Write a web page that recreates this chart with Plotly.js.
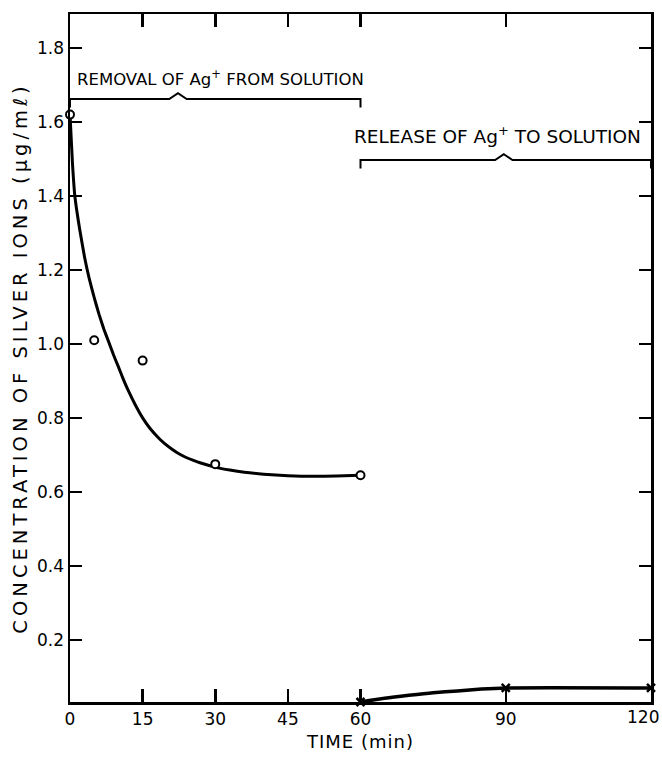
<!DOCTYPE html>
<html>
<head>
<meta charset="utf-8">
<script src="https://cdn.plot.ly/plotly-3.0.1.min.js"></script>
<style>
html,body{margin:0;padding:0;background:#fff;}
#chart{width:662px;height:757px;}
.ytitle{letter-spacing:4px;}
.xtitle{letter-spacing:1px;}
</style>
</head>
<body>
<div id="chart"></div>
<script>
// Measured points (circles: removal phase; crosses: release phase)
const removalTime = [0, 5, 15, 30, 60];
const removalConc = [1.62, 1.01, 0.955, 0.675, 0.645];
const releaseTime = [60, 90, 120];
const releaseConc = [0.032, 0.07, 0.07];

// Hand-drawn fitted curves
const removalCurveTime = [0, 0.5, 1, 2, 3, 4, 5, 6, 7, 8, 9, 10, 11, 12, 13.5, 15, 16.5, 18, 19.5, 21, 22.5, 24, 25.5, 27, 30, 33, 36, 40, 45, 50, 55, 60];
const removalCurveConc = [1.62, 1.49, 1.40, 1.31, 1.235, 1.175, 1.125, 1.08, 1.04, 1.005, 0.97, 0.938, 0.905, 0.875, 0.835, 0.80, 0.772, 0.750, 0.731, 0.716, 0.703, 0.693, 0.685, 0.678, 0.667, 0.659, 0.653, 0.648, 0.644, 0.642, 0.643, 0.645];
const releaseCurveTime = [60, 65, 70, 75, 80, 85, 90, 120];
const releaseCurveConc = [0.032, 0.042, 0.05, 0.057, 0.062, 0.067, 0.07, 0.07];

const xTicks = [0, 15, 30, 45, 60, 90, 120];
const xTickText = ["0", "15", "30", "45", "60", "90", "120"];
const yTicks = [0.2, 0.4, 0.6, 0.8, 1.0, 1.2, 1.4, 1.6, 1.8];
const yTickText = ["0.2", "0.4", "0.6", "0.8", "1.0", "1.2", "1.4", "1.6", "1.8"];

// Bracket labels
const bracketStart = [0, 60];
const bracketEnd = [60, 120];
const bracketPeak = [22.3, 89.6];
const bracketLevel = [1.662, 1.497];
const bracketLabels = ["REMOVAL OF Ag<sup>+</sup> FROM SOLUTION", "RELEASE OF Ag<sup>+</sup> TO SOLUTION"];
const labelX = [1.0, 58.3];
const labelY = [1.72, 1.565];
const labelSize = [16.5, 18.5];

const FONT = "DejaVu Sans, Liberation Sans, sans-serif";
const TICKSIZE = 17;

const traces = [
  {x: removalCurveTime, y: removalCurveConc, mode: 'lines', type: 'scatter',
   line: {color: '#000', width: 3, shape: 'spline', smoothing: 0.4}, hoverinfo: 'skip', cliponaxis: false},
  {x: releaseCurveTime, y: releaseCurveConc, mode: 'lines', type: 'scatter',
   line: {color: '#000', width: 3.5, shape: 'spline', smoothing: 0.6}, hoverinfo: 'skip', cliponaxis: false},
  {x: removalTime, y: removalConc, mode: 'markers', type: 'scatter',
   marker: {symbol: 'circle', size: 8, color: '#fff', line: {color: '#000', width: 2}}, cliponaxis: false},
  {x: releaseTime, y: releaseConc, mode: 'markers', type: 'scatter',
   marker: {symbol: 'x-thin-open', size: 8, color: '#000', line: {color: '#000', width: 2.5}}, cliponaxis: false}
];

const shapes = [];
const annotations = [];
for (let i = 0; i < bracketStart.length; i++) {
  const y = bracketLevel[i];
  const yEnd = y - 0.023;
  const yPeak = y + 0.016;
  const hw = 1.8;
  const p = bracketPeak[i];
  const path = `M ${bracketStart[i]} ${yEnd} L ${bracketStart[i]} ${y} L ${p - hw} ${y} L ${p} ${yPeak} L ${p + hw} ${y} L ${bracketEnd[i]} ${y} L ${bracketEnd[i]} ${yEnd}`;
  shapes.push({type: 'path', xref: 'x', yref: 'y', path: path, line: {color: '#000', width: 2}});
  annotations.push({x: labelX[i], y: labelY[i], xref: 'x', yref: 'y', text: bracketLabels[i],
    showarrow: false, xanchor: 'left', yanchor: 'middle', font: {family: FONT, size: labelSize[i], color: '#000'}});
}

// The last x tick label sits at the page edge: draw it right-aligned so it stays inside the page
const lastIdx = xTicks.length - 1;
const shownTickText = xTickText.map((t, i) => i === lastIdx ? '' : t);
annotations.push({x: xTicks[lastIdx], y: 0, xref: 'x', yref: 'paper', text: xTickText[lastIdx],
  showarrow: false, xanchor: 'right', yanchor: 'top', xshift: 10, yshift: -3,
  font: {family: FONT, size: TICKSIZE, color: '#000'}});

const layout = {
  width: 662, height: 757,
  margin: {l: 70, r: 11, t: 14, b: 55},
  paper_bgcolor: '#fff', plot_bgcolor: '#fff',
  showlegend: false,
  font: {family: FONT, color: '#000'},
  xaxis: {
    range: [0, 120], tickvals: xTicks, ticktext: shownTickText,
    ticks: 'inside', ticklen: 13, tickwidth: 2.5, tickcolor: '#000',
    showline: true, linewidth: 2.5, linecolor: '#000', mirror: 'ticks',
    showgrid: false, zeroline: false,
    tickfont: {family: FONT, size: TICKSIZE, color: '#000'},
    title: {text: 'TIME (min)', font: {family: FONT, size: 18, color: '#000'}, standoff: 8}
  },
  yaxis: {
    range: [0.032, 1.892], tickvals: yTicks, ticktext: yTickText,
    ticks: 'inside', ticklen: 12, tickwidth: 2.5, tickcolor: '#000',
    showline: true, linewidth: 2.5, linecolor: '#000', mirror: 'ticks',
    showgrid: false, zeroline: false,
    tickfont: {family: FONT, size: TICKSIZE, color: '#000'},
    title: {text: 'CONCENTRATION OF SILVER IONS (\u03bcg/m\u2113)', font: {family: FONT, size: 19.5, color: '#000'}, standoff: 4}
  },
  shapes: shapes,
  annotations: annotations
};

Plotly.newPlot('chart', traces, layout, {displayModeBar: false, staticPlot: true});
</script>
</body>
</html>
